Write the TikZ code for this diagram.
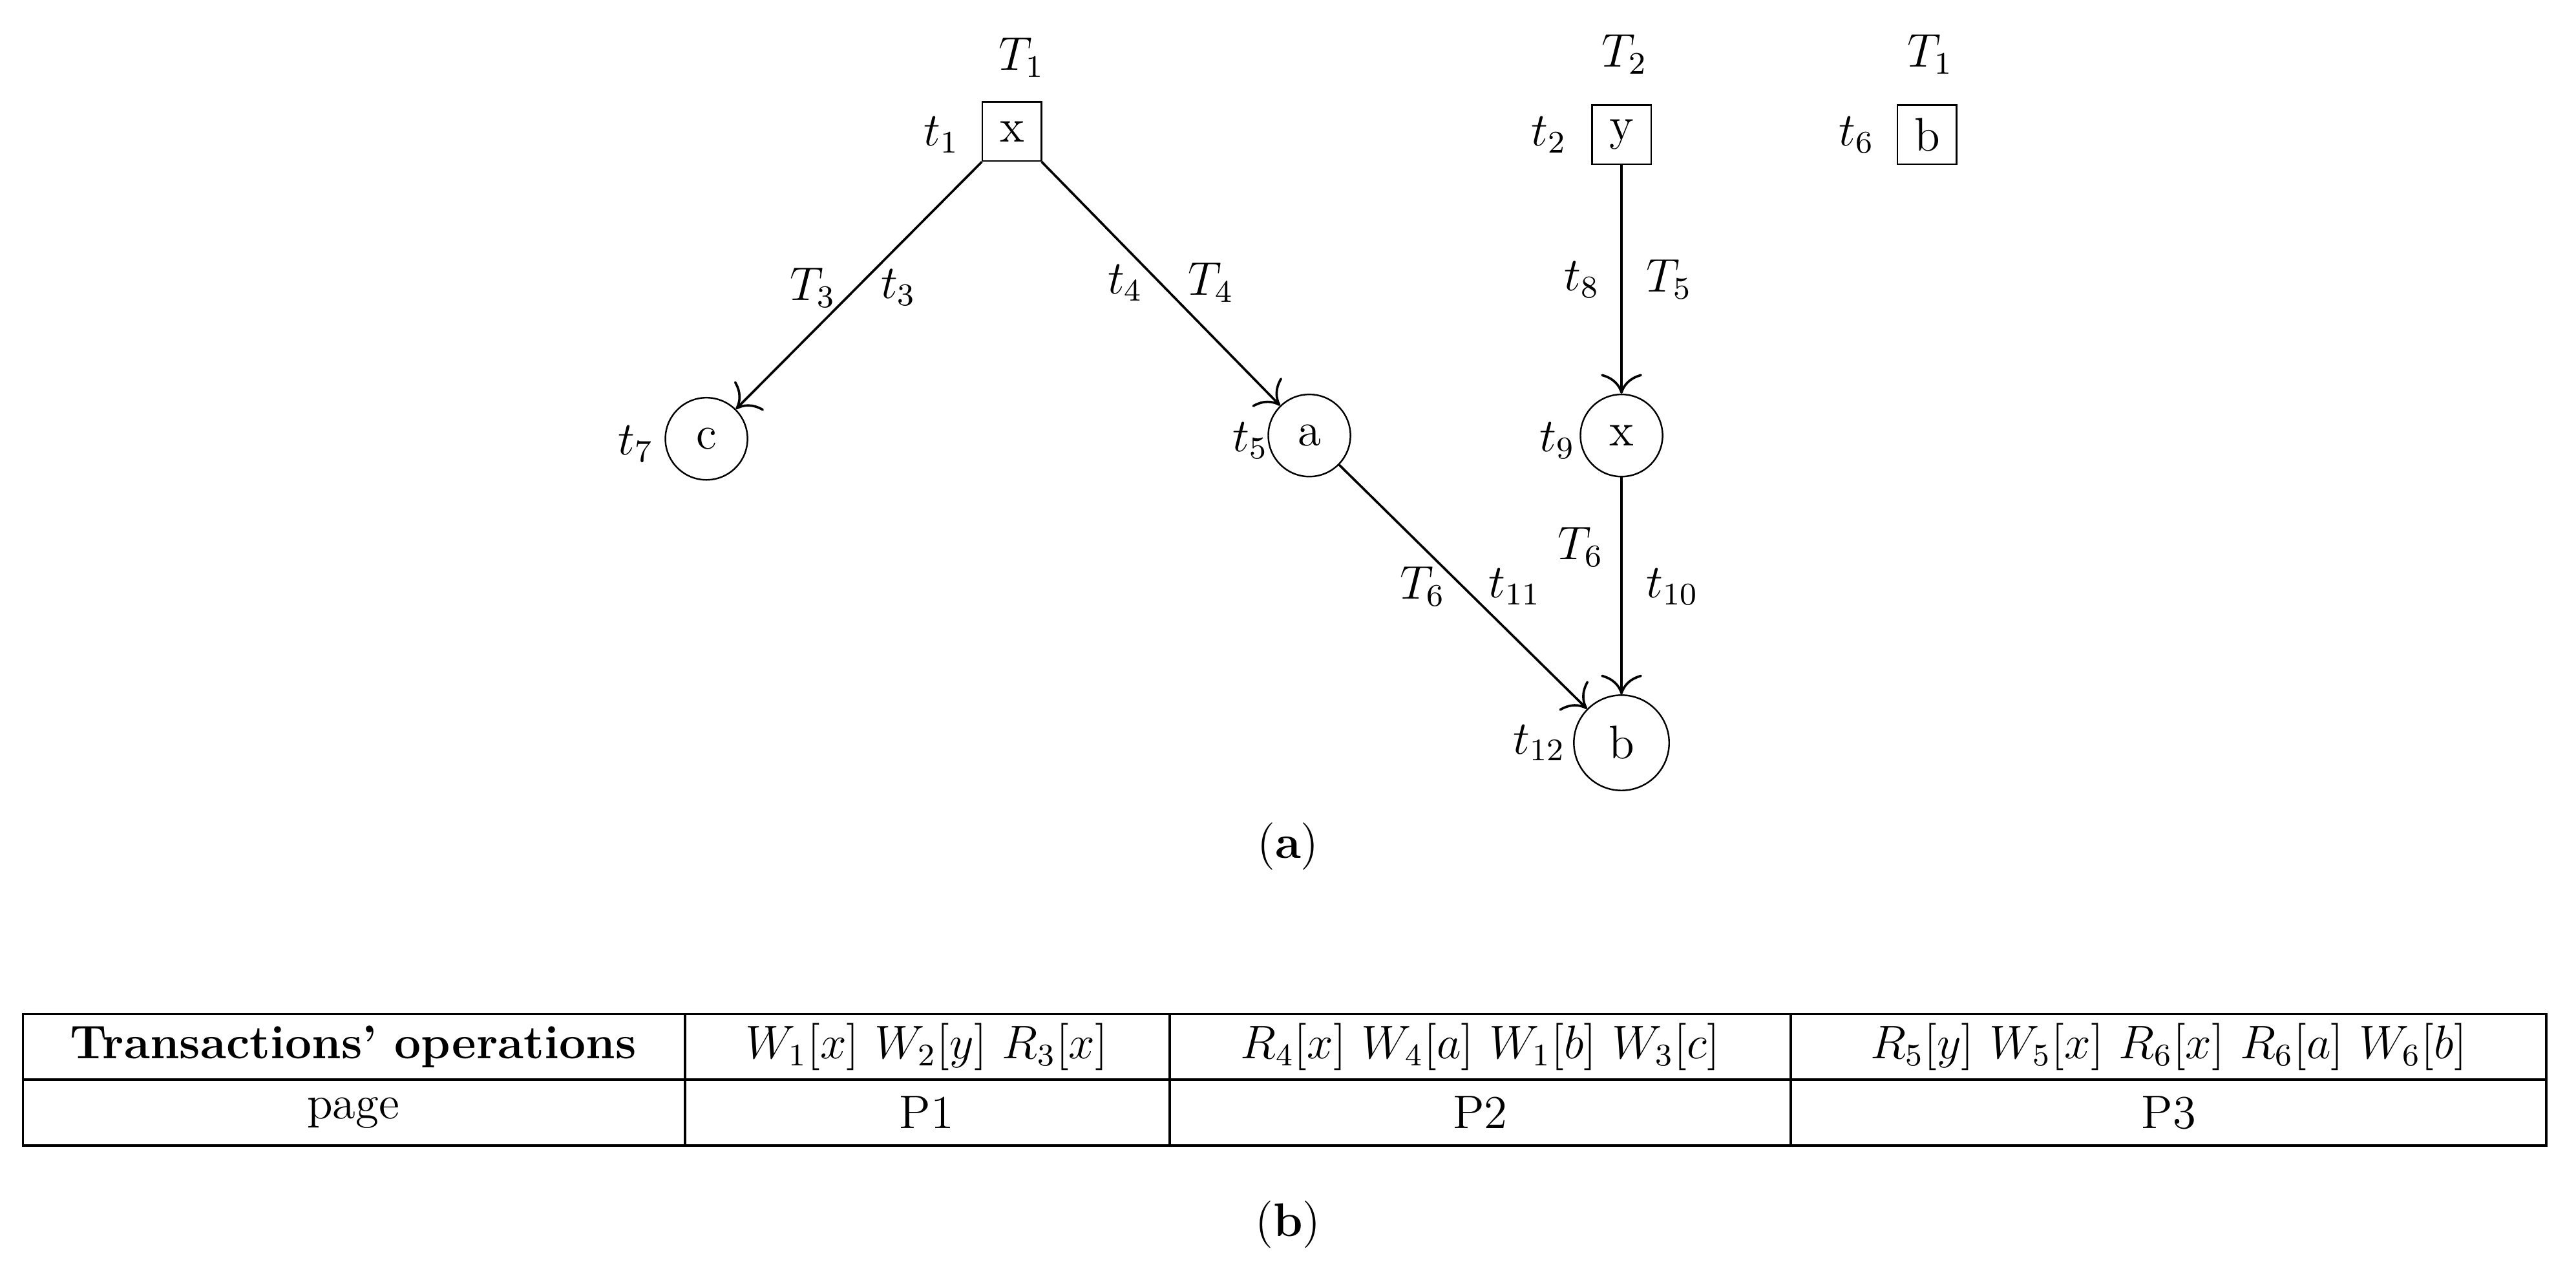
\documentclass[tikz,border=0pt]{standalone}
\usetikzlibrary{arrows.meta}
\begin{document}
\begin{tikzpicture}[x=0.0147cm,y=-0.0147cm,
 sq/.style={draw,minimum size=36*0.0147cm,inner sep=0pt,font=\large},
 ci/.style={draw,circle,minimum size=50*0.0147cm,inner sep=0pt,font=\large},
 lb/.style={font=\large},
 ed/.style={-{To[length=5pt]},semithick},
 cell/.style={font=\large}]
\useasboundingbox (0,0) rectangle (1568,772);
\node[sq] (x1) at (616,80) {x};
\node[sq] (y1) at (987,82) {y};
\node[sq] (b1) at (1173,82) {b};
\node[ci] (c) at (430,267) {c};
\node[ci] (a) at (797,265) {a};
\node[ci] (x2) at (987,265) {x};
\node[ci,minimum size=58*0.0147cm] (b2) at (987,452) {b};
\node[lb] (l1) at (622,35) {$T_1$};
\node[lb] (l2) at (573,82) {$t_1$};
\node[lb] (l3) at (989,33) {$T_2$};
\node[lb] (l4) at (943,82) {$t_2$};
\node[lb] (l5) at (1175,33) {$T_1$};
\node[lb] (l6) at (1130,82) {$t_6$};
\node[lb] (l7) at (387,270) {$t_7$};
\node[lb] (l8) at (761,268) {$t_5$};
\node[lb] (l9) at (948,268) {$t_9$};
\node[lb] (l10) at (937,452) {$t_{12}$};
\draw[ed] (x1) -- (c);
\draw[ed] (x1) -- (a);
\draw[ed] (y1) -- (x2);
\draw[ed] (a) -- (b2);
\draw[ed] (x2) -- (b2);
\node[lb] (e1) at (495,175) {$T_3$};
\node[lb] (e2) at (547,175) {$t_3$};
\node[lb] (e3) at (685,172) {$t_4$};
\node[lb] (e4) at (737,172) {$T_4$};
\node[lb] (e5) at (963,170) {$t_8$};
\node[lb] (e6) at (1016,170) {$T_5$};
\node[lb] (e7) at (866,357) {$T_6$};
\node[lb] (e8) at (922,357) {$t_{11}$};
\node[lb] (e9) at (962,333) {$T_6$};
\node[lb] (e10) at (1018,357) {$t_{10}$};
\node[lb] (ca) at (784,515) {(\textbf{a})};
\draw[semithick] (14,617) rectangle (1550,697);
\draw[semithick] (14,657) -- (1550,657);
\foreach \xx in {417,712,1090} \draw[semithick] (\xx,617) -- (\xx,697);
\node[cell] (h0) at (215,637) {\textbf{Transactions' operations}};
\node[cell] (h1) at (564,637) {$W_1[x]\ W_2[y]\ R_3[x]$};
\node[cell] (h2) at (901,637) {$R_4[x]\ W_4[a]\ W_1[b]\ W_3[c]$};
\node[cell] (h3) at (1320,637) {$R_5[y]\ W_5[x]\ R_6[x]\ R_6[a]\ W_6[b]$};
\node[cell] (r0) at (215,677) {page};
\node[cell] (r1) at (564,677) {P1};
\node[cell] (r2) at (901,677) {P2};
\node[cell] (r3) at (1320,677) {P3};
\node[lb] (cb) at (784,745) {(\textbf{b})};
\end{tikzpicture}
\end{document}
